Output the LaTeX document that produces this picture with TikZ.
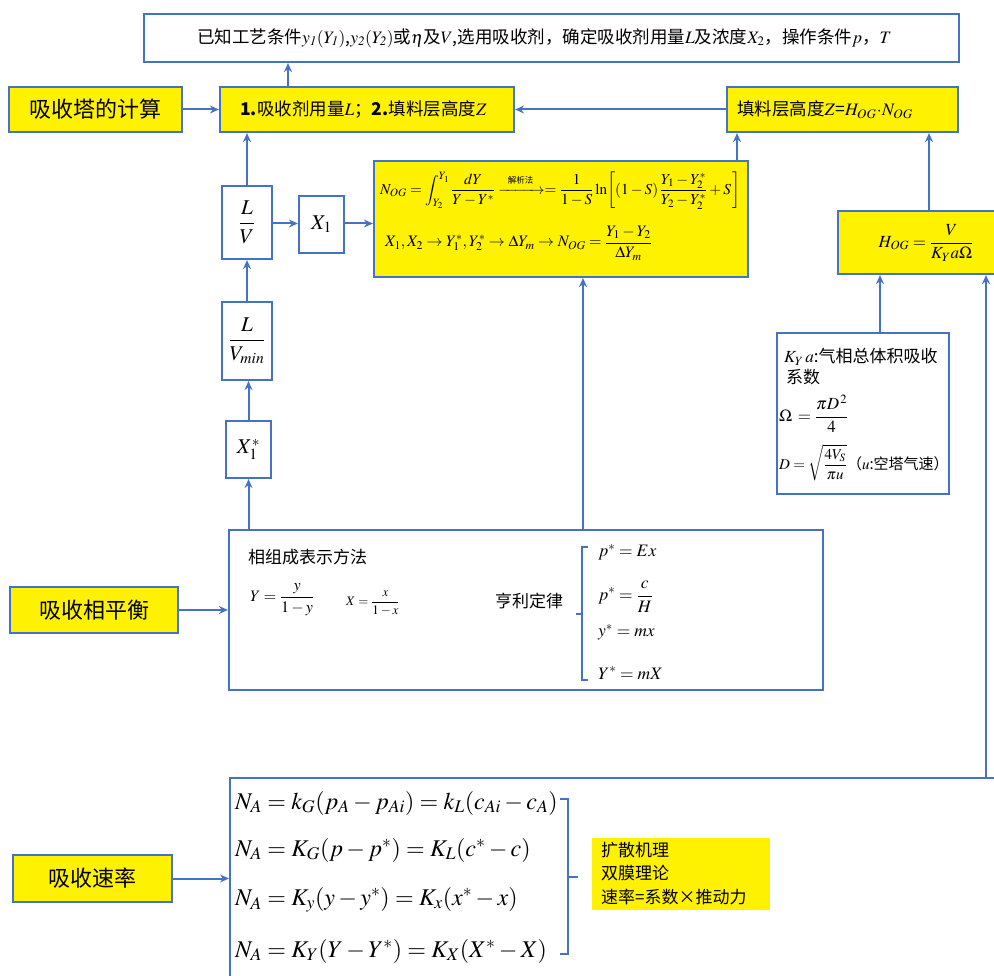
\documentclass[tikz,border=0pt]{standalone}
\usepackage{amsmath}
\usepackage{mathptmx}
\usepackage[no-math]{fontspec}
\setmainfont{Noto Sans CJK SC}
\usetikzlibrary{arrows.meta,calc}
\definecolor{bl}{RGB}{68,114,196}
\newcommand{\fs}[1]{\fontsize{#1}{#1}\selectfont}
\tikzset{
  box/.style={draw=bl, line width=2.2pt, inner sep=0pt},
  ybox/.style={box, fill=yellow},
  arr/.style={draw=bl, line width=2pt, -{Stealth[length=9pt,width=8pt,inset=3pt]}},
  ln/.style={draw=bl, line width=2pt},
  txt/.style={inner sep=0pt, anchor=west},
}
\begin{document}
\begin{tikzpicture}[x=1pt,y=-1pt]
\clip (0,0) rectangle (994,976);
\fill[white] (0,0) rectangle (994,976);

% top row
\node[box, minimum width=815pt, minimum height=48pt] (top) at (551.5,38) {};
\node[txt] (toptxt) at (197,38) {\fs{17.5}已知工艺条件$y_{\mathit{1}}(Y_{\mathit{1}})$,$y_{\mathit{2}}(Y_{\mathit{2}})$或$\eta$及$V$,选用吸收剂，确定吸收剂用量$L$及浓度$X_2$，操作条件$p$，$T$};

\node[ybox, minimum width=173pt, minimum height=45pt] (calc) at (95.5,109.5) {\fs{22}吸收塔的计算};
\node[ybox, minimum width=294pt, minimum height=45pt] (main) at (367,109.5) {};
\node[txt] (maintxt) at (240,109.5) {\fs{17.5}\textbf{1.}吸收剂用量$L$；\textbf{2.}填料层高度$Z$};
\node[ybox, minimum width=231pt, minimum height=45pt] (zbox) at (842.5,109.5) {};
\node[txt] (ztxt) at (737,109.5) {\fs{17.5}填料层高度$Z$=$H_{OG}\!\cdot\! N_{OG}$};

% left chain
\node[box, fill=white, minimum width=50pt, minimum height=73pt] (lv) at (247,222.5) {\fs{21}$\dfrac{L}{V}$};
\node[box, fill=white, minimum width=45pt, minimum height=57pt] (x1) at (321.5,224.5) {\fs{21}$X_1$};
\node[box, fill=white, minimum width=50pt, minimum height=78pt] (lvmin) at (247,341) {\fs{21}$\dfrac{L}{V_{\mathit{min}}}$};
\node[box, fill=white, minimum width=45pt, minimum height=57pt] (x1s) at (248.5,449.5) {\fs{21}$X_1^*$};

% NOG box
\node[ybox, minimum width=374pt, minimum height=116pt] (nog) at (561,219) {};
\node[txt] (nog1) at (380,191) {\fs{15.2}$\displaystyle N_{OG}=\int_{Y_2}^{Y_1}\frac{dY}{Y-Y^*}\xrightarrow{\hspace{6pt}\raisebox{2pt}{\fs{8.5}解析法}\hspace{6pt}}=\frac{1}{1-S}\ln\!\left[(1-S)\,\frac{Y_1-Y_2^*}{Y_2-Y_2^*}+S\,\right]$};
\node[txt] (nog2) at (385,243) {\fs{16}$\displaystyle X_1,X_2\rightarrow Y_1^*,Y_2^*\rightarrow \Delta Y_m\rightarrow N_{OG}=\frac{Y_1-Y_2}{\Delta Y_m}$};

% HOG box
\node[ybox, minimum width=170pt, minimum height=63pt] (hog) at (923,242.5) {};
\node[inner sep=0pt] (hogtxt) at (926,243) {\fs{17}$\displaystyle H_{OG}=\frac{V}{K_Y a\Omega}$};

% Kya box
\node[box, fill=white, minimum width=172pt, minimum height=161pt] (kya) at (863,413.5) {};
\node[txt] (k1) at (784,357) {\fs{17}$K_Y\,a$:气相总体积吸收};
\node[txt] (k2) at (786,377) {\fs{17}系数};
\node[txt] (k3) at (779,414) {\fs{17}$\displaystyle \Omega\,=\frac{\pi D^{\,2}}{4}$};
\node[txt] (k4) at (779,463) {\fs{15}$\displaystyle D=\sqrt{\frac{4V_S}{\pi u}}$（$u$:空塔气速）};

% phase equilibrium
\node[ybox, minimum width=168pt, minimum height=46pt] (eq) at (94,610) {\fs{22}吸收相平衡};
\node[box, fill=white, minimum width=594pt, minimum height=160pt] (phase) at (526,610) {};
\node[txt] (ph1) at (248,557) {\fs{17}相组成表示方法};
\node[txt] (ph2) at (250,600) {\fs{16}$\displaystyle Y=\frac{y}{1-y}$};
\node[txt] (ph3) at (346,603) {\fs{13}$\displaystyle X=\frac{x}{1-x}$};
\node[txt] (henry) at (495,601) {\fs{17}亨利定律};
\node[txt] (h1) at (598,552) {\fs{17.5}$p^*=Ex$};
\node[txt] (h2) at (598,597) {\fs{17.5}$\displaystyle p^*=\frac{c}{H}$};
\node[txt] (h3) at (598,632) {\fs{17.5}$y^*=mx$};
\node[txt] (h4) at (598,673) {\fs{17.5}$Y^*=mX$};
\coordinate (hbt) at (582,547);
\coordinate (hbb) at (582,680);
\draw[ln, line width=1.8pt] ($(hbt)+(6,0)$) -- (hbt) -- (hbb) -- ($(hbb)+(6,0)$);
\coordinate (hbm) at (582,614);
\draw[ln, line width=1.8pt] (hbm) -- ++(-6,0);

% rate
\node[ybox, minimum width=159pt, minimum height=47pt] (rate) at (92.5,878.5) {\fs{22}吸收速率};
\node[box, fill=white, minimum width=800pt, minimum height=260pt, anchor=north west] (na) at (229,777) {};
\node[txt] (n1) at (235,803) {\fs{24}$N_A=k_G(p_A-p_{Ai})=k_L(c_{Ai}-c_A)$};
\node[txt] (n2) at (235,850) {\fs{24}$N_A=K_G(p-p^*)=K_L(c^*-c)$};
\node[txt] (n3) at (235,900) {\fs{24}$N_A=K_y(y-y^*)=K_x(x^*-x)$};
\node[txt] (n4) at (235,951) {\fs{24}$N_A=K_Y(Y-Y^*)=K_X(X^*-X)$};
\coordinate (nbt) at (568,799);
\coordinate (nbb) at (568,954);
\draw[ln, line width=1.8pt] ($(nbt)+(-8,0)$) -- (nbt) -- (nbb) -- ($(nbb)+(-8,0)$);
\coordinate (nbm) at (568,877);
\draw[ln, line width=1.8pt] (nbm) -- ++(10,0);
\node[fill=yellow, minimum width=178pt, minimum height=72pt, inner sep=0pt] (mech) at (681,874) {};
\node[txt, align=left] (mechtxt) at (601,875) {\fs{17}\begin{tabular}{@{}l@{}}扩散机理\\[4pt]双膜理论\\[4pt]速率=系数×推动力\end{tabular}};

% connectors
\coordinate (cx288) at (288,0);
\coordinate (cx583) at (583,0);
\coordinate (cx737) at (737,0);
\coordinate (cx929) at (929,0);
\coordinate (cx880) at (880,0);
\coordinate (cx986) at (986,0);
\draw[arr] (calc.east) -- (main.west);
\draw[arr] (zbox.west) -- (main.east);
\draw[arr] (main.north -| cx288) -- (top.south -| cx288);
\draw[arr] (lv.north) -- (lv.north |- main.south);
\draw[arr] ($(lv.east)+(0,1)$) -- ($(lv.east -| x1.west)+(0,1)$);
\draw[arr] ($(x1.east)+(0,-1)$) -- ($(x1.east -| nog.west)+(0,-1)$);
\draw[arr] (lvmin.north) -- (lv.south);
\draw[arr] (x1s.north) -- (x1s.north |- lvmin.south);
\draw[arr] (x1s.south |- phase.north) -- (x1s.south);
\draw[arr] (phase.north -| cx583) -- (nog.south -| cx583);
\draw[arr] (nog.north -| cx737) -- (zbox.south -| cx737);
\draw[arr] (hog.north -| cx929) -- (zbox.south -| cx929);
\draw[arr] (kya.north -| cx880) -- (hog.south -| cx880);
\draw[arr] (na.north -| cx986) -- (hog.south -| cx986);
\draw[arr] (eq.east) -- (eq.east -| phase.west);
\draw[arr] (rate.east) -- (rate.east -| na.west);
\end{tikzpicture}
\end{document}
